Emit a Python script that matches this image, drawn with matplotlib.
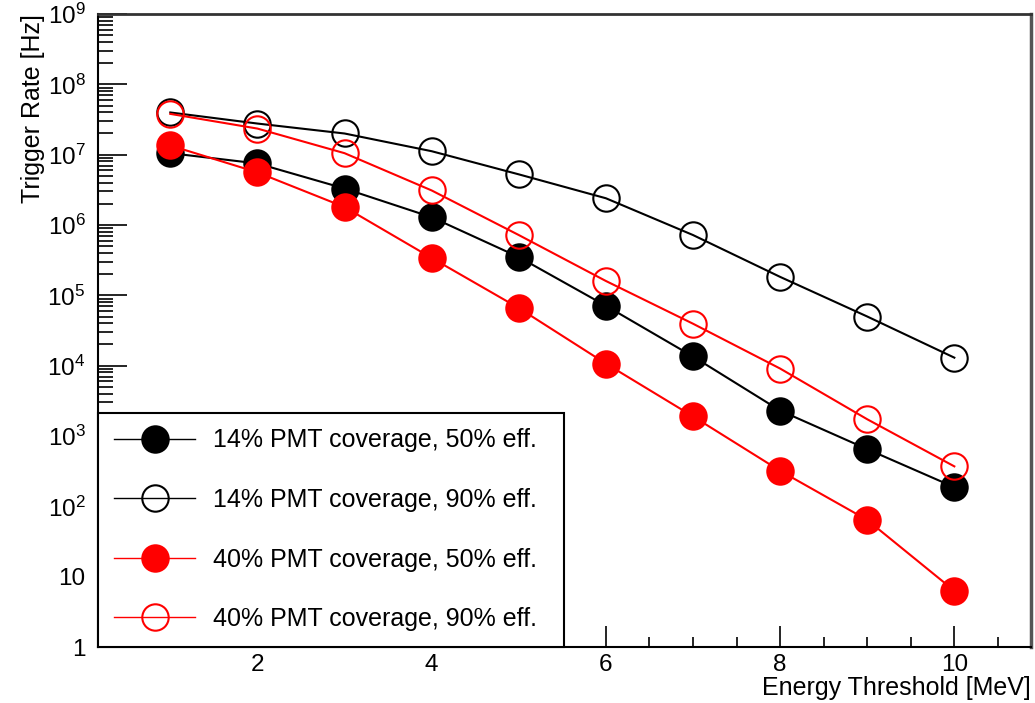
import math
import matplotlib
matplotlib.use("Agg")
import matplotlib.pyplot as plt
from matplotlib.ticker import (LogLocator, MultipleLocator, FixedLocator,
                               FuncFormatter, NullFormatter)

plt.rcParams["font.family"] = ["Liberation Sans", "DejaVu Sans"]
plt.rcParams["mathtext.fontset"] = "custom"
plt.rcParams["mathtext.rm"] = "Liberation Sans"
plt.rcParams["mathtext.it"] = "Liberation Sans:italic"

# energy thresholds [MeV]
energy = [1, 2, 3, 4, 5, 6, 7, 8, 9, 10]
x_ticks = [2, 4, 6, 8, 10]
y_ticks = [1, 1e1, 1e2, 1e3, 1e4, 1e5, 1e6, 1e7, 1e8, 1e9]

# trigger rates [Hz]
rate_14_50 = [1.05e7, 7.5e6, 3.3e6, 1.29e6, 3.5e5, 7.1e4, 1.35e4, 2.3e3, 6.5e2, 1.87e2]
rate_14_90 = [3.98e7, 2.77e7, 2.0e7, 1.12e7, 5.25e6, 2.4e6, 7.2e5, 1.83e5, 5.0e4, 1.3e4]
rate_40_50 = [1.35e7, 5.6e6, 1.8e6, 3.4e5, 6.6e4, 1.07e4, 1.9e3, 3.2e2, 64, 6.3]
rate_40_90 = [3.8e7, 2.35e7, 1.05e7, 3.1e6, 7.2e5, 1.6e5, 3.95e4, 9.1e3, 1.73e3, 3.7e2]

labels = ["14% PMT coverage, 50% eff.",
          "14% PMT coverage, 90% eff.",
          "40% PMT coverage, 50% eff.",
          "40% PMT coverage, 90% eff."]

fig = plt.figure(figsize=(10.35, 7.03), dpi=100)
ax = fig.add_axes([98 / 1035, 1 - 647 / 703, 933 / 1035, 633 / 703])

ms = 19
series = [
    (rate_14_50, "black", "black"),
    (rate_14_90, "black", "none"),
    (rate_40_50, "red", "red"),
    (rate_40_90, "red", "none"),
]
for (vals, col, face), lab in zip(series, labels):
    ax.plot(energy, vals, color=col, lw=1.5, marker="o", ms=ms,
            markerfacecolor=face, markeredgecolor=col, markeredgewidth=1.5,
            label=lab)

ax.set_yscale("log")
ax.set_xlim(0.17, 10.88)
ax.set_ylim(1, 1e9)

# ROOT-like ticks
ax.xaxis.set_major_locator(FixedLocator(x_ticks))
ax.xaxis.set_minor_locator(MultipleLocator(0.5))
ax.yaxis.set_major_locator(FixedLocator(y_ticks))
ax.yaxis.set_minor_locator(LogLocator(base=10, subs=range(2, 10), numticks=20))
ax.yaxis.set_minor_formatter(NullFormatter())


def ylab(v, pos):
    n = int(round(math.log10(v)))
    if n == 0:
        return "1"
    if n == 1:
        return "10"
    return r"$\mathdefault{10^{%d}}$" % n


ax.yaxis.set_major_formatter(FuncFormatter(ylab))
ax.tick_params(axis="y", which="major", direction="in", length=21, width=1.2,
               labelsize=17.5, pad=9, right=False)
ax.tick_params(axis="y", which="minor", direction="in", length=11, width=1.2, right=False)
ax.tick_params(axis="x", which="major", direction="in", length=15, width=1.2,
               labelsize=17.5, pad=5, top=False)
ax.tick_params(axis="x", which="minor", direction="in", length=7, width=1.2, top=False)

for s in ["left", "bottom"]:
    ax.spines[s].set_linewidth(1.5)
ax.spines["top"].set_linewidth(2)
ax.spines["top"].set_color("#333333")
ax.spines["right"].set_linewidth(2.5)
ax.spines["right"].set_color("#555555")

ax.set_xlabel("Energy Threshold [MeV]", fontsize=18, loc="right", labelpad=0)
ax.set_ylabel("Trigger Rate [Hz]", fontsize=18, loc="top", labelpad=2)

leg = ax.legend(loc="lower left", bbox_to_anchor=(0, 0, 466 / 933, 0.4), mode="expand",
                borderaxespad=0, fontsize=18, numpoints=1, handlelength=3.24,
                handletextpad=0.72, borderpad=0.64, labelspacing=1.42,
                fancybox=False, framealpha=1)
leg.get_frame().set_edgecolor("black")
leg.get_frame().set_linewidth(1.5)
for h in leg.legend_handles:
    h.set_linewidth(1.0)

fig.savefig("out.png", dpi=100)
